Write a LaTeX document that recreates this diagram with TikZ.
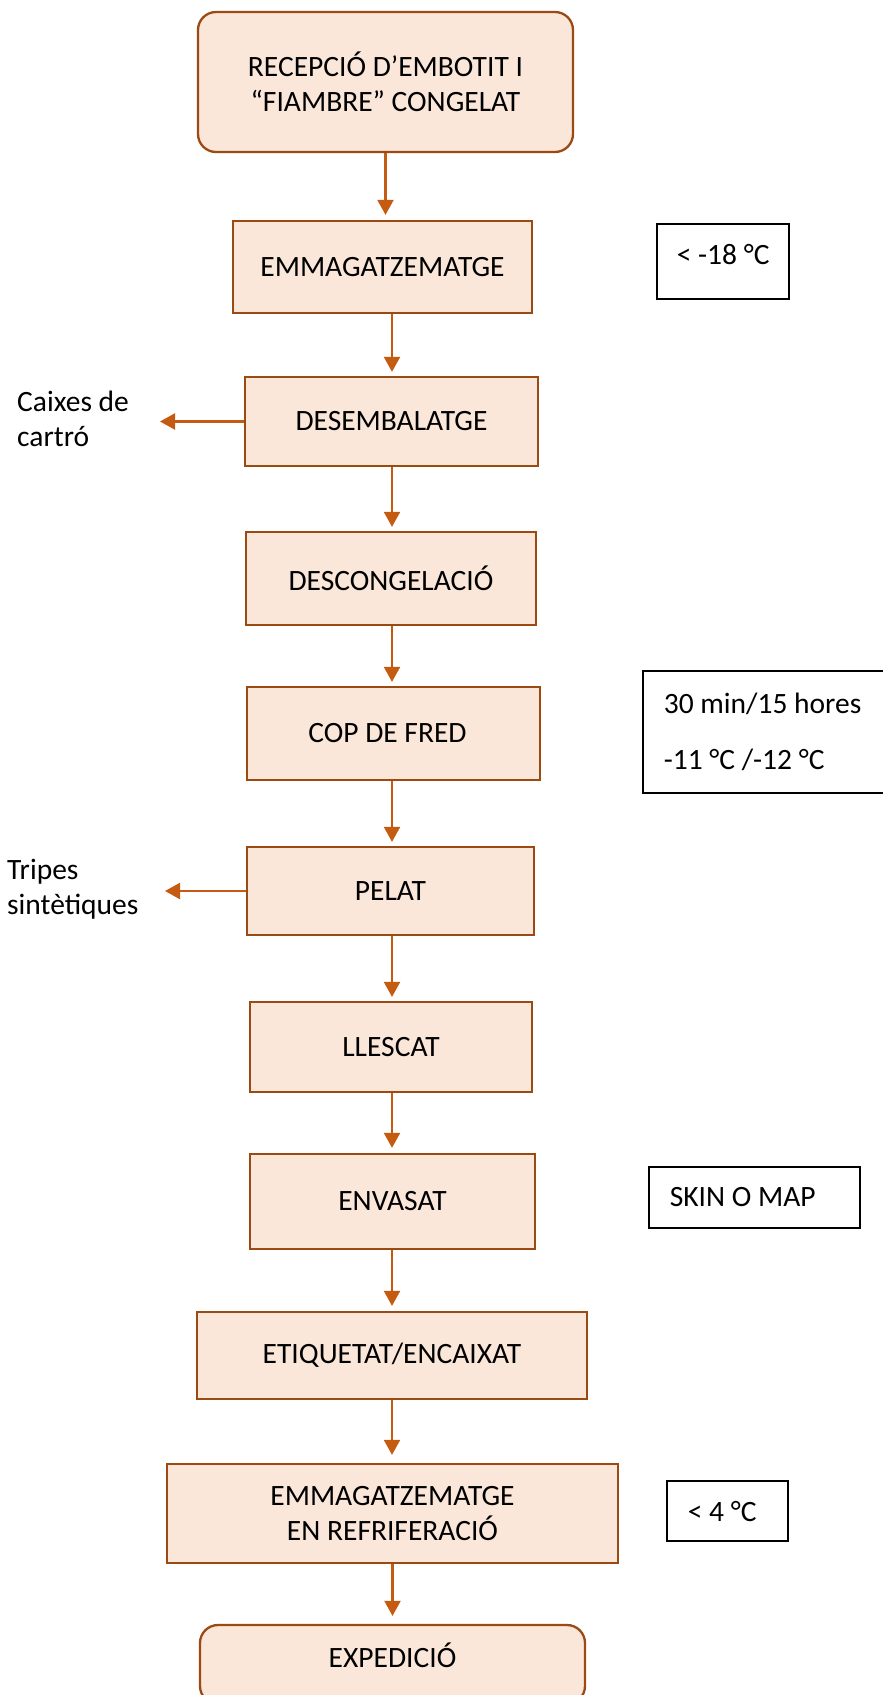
\documentclass[tikz,border=0pt]{standalone}
\usepackage{fontspec}
\setmainfont{Carlito}
\usetikzlibrary{arrows.meta}
\definecolor{stepfill}{HTML}{FBE7DA}
\definecolor{stepedge}{HTML}{9C4A14}
\definecolor{flowline}{HTML}{C55A11}
\tikzset{
  txt/.style={font=\fontsize{29.5}{35}\selectfont},
  stepbox/.style={txt, draw=stepedge, fill=stepfill, line width=2.3pt,
    inner sep=0pt, align=center},
  roundbox/.style={stepbox, rounded corners=18pt},
  notebox/.style={txt, draw=black, line width=1.6pt, inner ysep=0pt,
    inner xsep=21pt, align=flush left, anchor=west},
  flow/.style={draw=flowline, line width=2.2pt,
    -{Triangle[width=16pt,length=15pt]}},
  sidetext/.style={txt, inner sep=0pt, align=flush left, anchor=north west},
}
\begin{document}
\begin{tikzpicture}[x=1pt, y=-1pt]
\useasboundingbox (0,0) rectangle (883,1695);
\fill[white] (0,0) rectangle (883,1695);
\clip (0,0) rectangle (883,1695);

% main process steps
\node[roundbox, minimum width=375pt, minimum height=140pt] (b1) at (385.5,82)
  {RECEPCIÓ D’EMBOTIT I\\“FIAMBRE” CONGELAT};
\node[stepbox, minimum width=299pt, minimum height=92pt] (b2) at (382.5,267) {EMMAGATZEMATGE};
\node[stepbox, minimum width=293pt, minimum height=89pt] (b3) at (391.5,421.5) {DESEMBALATGE};
\node[stepbox, minimum width=290pt, minimum height=93pt] (b4) at (391,578.5) {DESCONGELACIÓ};
\node[stepbox, minimum width=293pt, minimum height=93pt] (b5) at (393.5,733.5) {COP DE FRED\hspace*{12pt}};
\node[stepbox, minimum width=287pt, minimum height=88pt] (b6) at (390.5,891) {PELAT};
\node[stepbox, minimum width=282pt, minimum height=90pt] (b7) at (391,1047) {LLESCAT};
\node[stepbox, minimum width=285pt, minimum height=95pt] (b8) at (392.5,1201.5) {ENVASAT};
\node[stepbox, minimum width=390pt, minimum height=87pt] (b9) at (392,1355.5) {ETIQUETAT/ENCAIXAT};
\node[stepbox, minimum width=451pt, minimum height=99pt] (b10) at (392.5,1513.5)
  {EMMAGATZEMATGE\\EN REFRIFERACIÓ};
\node[roundbox, minimum width=385pt, minimum height=79pt, text height=18pt, text depth=13pt]
  (b11) at (392.5,1664.5) {EXPEDICIÓ};

% notes on the right
\node[notebox, minimum height=75pt, text width=92pt, inner xsep=20pt,
  text height=19pt, text depth=13pt] (n1) at (656,261.5) {\mbox{< -18 °C}};
\node[notebox, minimum height=122pt, text width=230pt] (n2) at (642,732)
  {30 min/15 hores\\[21pt]-11 °C /-12 °C};
\node[notebox, minimum height=61pt, text width=169pt] (n3) at (648,1197.5) {SKIN O MAP};
\node[notebox, minimum height=60pt, text width=79pt] (n4) at (666,1511) {\mbox{< 4 °C}};

% by-products on the left
\node[sidetext] (s1) at (17,391) {Caixes de\\cartró};
\node[sidetext] (s2) at (7,859) {Tripes\\sintètiques};

% flow connectors
\coordinate (ax) at (392,0);
\coordinate (lx1) at (160,0);
\coordinate (lx2) at (165,0);
\draw[flow, shorten >=5pt] (b1.south) -- (b2.north -| b1.south);
\draw[flow, shorten >=4pt] (b2.south -| ax) -- (b3.north -| ax);
\draw[flow, shorten >=4pt] (b3.south -| ax) -- (b4.north -| ax);
\draw[flow, shorten >=4pt] (b4.south -| ax) -- (b5.north -| ax);
\draw[flow, shorten >=4pt] (b5.south -| ax) -- (b6.north -| ax);
\draw[flow, shorten >=4pt] (b6.south -| ax) -- (b7.north -| ax);
\draw[flow, shorten >=5pt] (b7.south -| ax) -- (b8.north -| ax);
\draw[flow, shorten >=5pt] (b8.south -| ax) -- (b9.north -| ax);
\draw[flow, shorten >=8pt] (b9.south -| ax) -- (b10.north -| ax);
\draw[flow, shorten >=8pt] (b10.south) -- (b11.north);
\draw[flow] (b3.west) -- (b3.west -| lx1);
\draw[flow] (b6.west) -- (b6.west -| lx2);
\end{tikzpicture}
\end{document}
